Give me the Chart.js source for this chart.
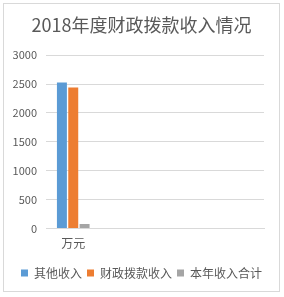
<!DOCTYPE html>
<html lang="zh">
<head>
  <meta charset="UTF-8" />
  <title>2018年度财政拨款收入情况</title>
  <script src="https://cdn.jsdelivr.net/npm/chart.js"></script>
  <style>
    body {
      margin: 0;
      background: #fff;
    }
    .frame {
      position: absolute;
      left: 3px;
      top: 3px;
      width: 275px;
      height: 287px;
      border: 1px solid #d9d9d9;
      background: #fff;
    }
  </style>
</head>
<body>
  <div class="frame">
    <canvas id="chart" width="275" height="287"></canvas>
  </div>

  <script>
    // data
    const categories = ["万元", "", "", ""];
    const otherIncome = [2525, null, null, null];
    const grantIncome = [2440, null, null, null];
    const totalIncome = [80, null, null, null];
    const seriesNames = ["其他收入", "财政拨款收入", "本年收入合计"];

    const font = '"Noto Sans CJK SC", "Noto Sans", sans-serif';
    const grey = "#595959";

    const ctx = document.getElementById("chart").getContext("2d");
    new Chart(ctx, {
      type: "bar",
      data: {
        labels: categories,
        datasets: [
          { label: seriesNames[0], data: otherIncome, backgroundColor: "#5B9BD5" },
          { label: seriesNames[1], data: grantIncome, backgroundColor: "#ED7D31" },
          { label: seriesNames[2], data: totalIncome, backgroundColor: "#A5A5A5" }
        ]
      },
      options: {
        responsive: false,
        animation: false,
        categoryPercentage: 0.624,
        barPercentage: 0.88,
        layout: { padding: { left: 9, right: 9, top: 0, bottom: 2 } },
        plugins: {
          title: {
            display: true,
            text: "2018年度财政拨款收入情况",
            color: grey,
            font: { family: font, size: 18, weight: "normal" },
            padding: { top: 10, bottom: 19.5 }
          },
          legend: {
            position: "bottom",
            labels: {
              boxWidth: 7,
              boxHeight: 7,
              padding: 5,
              color: grey,
              font: { family: font, size: 12 }
            }
          },
          tooltip: { enabled: false }
        },
        scales: {
          x: {
            grid: { display: false, drawTicks: false },
            border: { color: "#d9d9d9" },
            ticks: { color: grey, padding: 8, font: { family: font, size: 12 } },
            afterFit(scale) { scale.height += 3; }
          },
          y: {
            min: 0,
            max: 3000,
            ticks: {
              stepSize: 500,
              color: grey,
              padding: 9,
              font: { family: font, size: 11 },
              callback: v => String(v)
            },
            grid: { color: "#d9d9d9", drawTicks: false },
            border: { display: false },
            afterFit(scale) { scale.width = 33; }
          },
          // empty right margin so the plot stops where the reference's does
          yRight: {
            position: "right",
            grid: { display: false, drawTicks: false },
            ticks: { display: false },
            border: { display: false },
            afterFit(scale) { scale.width = 6; }
          }
        }
      }
    });
  </script>
</body>
</html>
